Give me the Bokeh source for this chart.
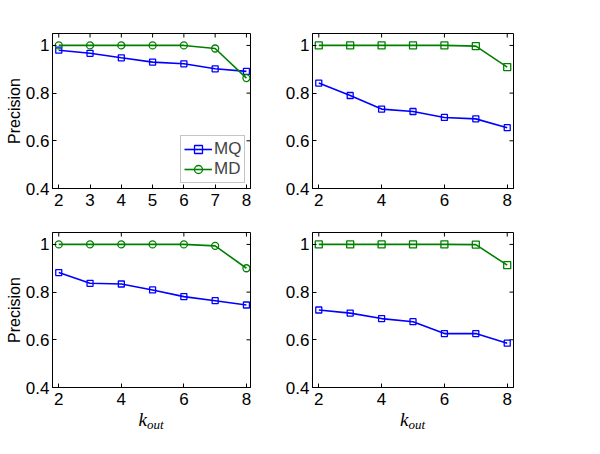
import math
from bokeh.plotting import figure
from bokeh.layouts import column, row
from bokeh.models import (Range1d, FixedTicker, CustomJSTickFormatter,
                          Legend, LegendItem, Div)
from bokeh.embed import file_html
from bokeh.resources import INLINE

k_out = [2, 3, 4, 5, 6, 7, 8]

tl_mq = [0.980, 0.967, 0.948, 0.930, 0.923, 0.902, 0.891]
tl_md = [1.000, 1.000, 1.000, 1.000, 1.000, 0.987, 0.863]
tr_mq = [0.842, 0.790, 0.733, 0.723, 0.698, 0.692, 0.655]
tr_md = [1.000, 1.000, 1.000, 1.000, 1.000, 0.997, 0.909]
bl_mq = [0.882, 0.837, 0.834, 0.809, 0.781, 0.764, 0.746]
bl_md = [1.000, 1.000, 1.000, 1.000, 1.000, 0.994, 0.900]
br_mq = [0.725, 0.712, 0.689, 0.676, 0.626, 0.626, 0.586]
br_md = [1.000, 1.000, 1.000, 1.000, 1.000, 0.999, 0.913]

y_ticks = [0.4, 0.6, 0.8, 1.0]
x_ticks_fine = [2, 3, 4, 5, 6, 7, 8]
x_ticks_coarse = [2, 4, 6, 8]

BLUE = "#0000ff"
GREEN = "#008000"
FONT = "Liberation Sans"
FS = "17px"

fmt = CustomJSTickFormatter(code="return (Math.round(tick*10)/10).toString();")


def make(mq, md, md_marker, xticks, fw, xr_hi, left, right, top, bottom,
         ylabel=False, legend=False):
    x_lo, y_lo, y_hi = 1.8, 0.4, 1.05
    p = figure(frame_width=fw, frame_height=155, output_backend="svg",
               toolbar_location=None, x_range=Range1d(x_lo, xr_hi),
               y_range=Range1d(y_lo, y_hi), min_border_left=left,
               min_border_right=right, min_border_top=top,
               min_border_bottom=bottom, background_fill_color="white",
               border_fill_color="white")
    p.grid.visible = False
    p.outline_line_color = "black"
    p.outline_line_width = 1
    for ax in (p.xaxis[0], p.yaxis[0]):
        ax.major_tick_in = 4
        ax.major_tick_out = 0
        ax.minor_tick_line_color = None
        ax.axis_line_color = "black"
        ax.major_label_text_font = FONT
        ax.major_label_text_font_size = FS
        ax.major_label_text_color = "black"
    p.xaxis[0].major_label_standoff = 5
    p.yaxis[0].major_label_standoff = 3
    p.xaxis[0].ticker = FixedTicker(ticks=xticks)
    p.yaxis[0].ticker = FixedTicker(ticks=y_ticks)
    p.yaxis[0].formatter = fmt
    if ylabel:
        p.yaxis[0].axis_label = "Precision"
        p.yaxis[0].axis_label_text_font = FONT
        p.yaxis[0].axis_label_text_font_size = "16px"
        p.yaxis[0].axis_label_text_font_style = "normal"
        p.yaxis[0].axis_label_text_color = "black"
        p.yaxis[0].axis_label_standoff = 0
    # mirrored inward ticks on right and top (clipped dash markers)
    p.scatter([xr_hi] * len(y_ticks), y_ticks, marker="dash", size=8,
              line_color="black", line_width=1)
    p.scatter(xticks, [y_hi] * len(xticks), marker="dash", size=8, angle=math.pi / 2,
              line_color="black", line_width=1)

    l1 = p.line(k_out, mq, line_color=BLUE, line_width=1.6)
    s1 = p.scatter(k_out, mq, marker="square", size=6, line_color=BLUE,
                   fill_color=None, line_width=1.3)
    l2 = p.line(k_out, md, line_color=GREEN, line_width=1.6)
    s2 = p.scatter(k_out, md, marker=md_marker, size=7, line_color=GREEN,
                   fill_color=None, line_width=1.3)
    if legend:
        lg = Legend(items=[LegendItem(label="MQ", renderers=[l1, s1]),
                           LegendItem(label="MD", renderers=[l2, s2])],
                    location=(128, 5), padding=3, margin=0, spacing=0,
                    glyph_width=28, glyph_height=20, label_height=20,
                    label_standoff=2, label_text_font=FONT,
                    label_text_font_size="17px", border_line_color="#8c8c8c",
                    border_line_width=1, background_fill_color="white",
                    background_fill_alpha=1)
        p.add_layout(lg, "center")
    return p


def xlabel_div(width):
    html = ('<div style="width:%dpx;text-align:center;font-family:\'Liberation Serif\';'
            'font-style:italic;font-size:19px;line-height:20px;color:black;">'
            'k<sub style="font-size:13px;vertical-align:-3px;">out</sub></div>') % width
    return Div(text=html, width=width, height=30, margin=0,
               styles={"text-align": "center", "width": "%dpx" % width})


tl = make(tl_mq, tl_md, "circle", x_ticks_fine, 198, 8.13, 52, 30, 33, 27,
          ylabel=True, legend=True)
tr = make(tr_mq, tr_md, "square", x_ticks_coarse, 201, 8.2, 32, 20, 33, 27)
bl = make(bl_mq, bl_md, "circle", x_ticks_coarse, 198, 8.13, 52, 30, 17, 23,
          ylabel=True)
br = make(br_mq, br_md, "square", x_ticks_coarse, 201, 8.2, 32, 20, 14, 26)

labels = row(xlabel_div(302), xlabel_div(221), spacing=0)
layout = column(row(tl, tr, spacing=0), row(bl, br, spacing=0), labels, spacing=0)
open("out.html", "w").write(file_html(layout, INLINE))
